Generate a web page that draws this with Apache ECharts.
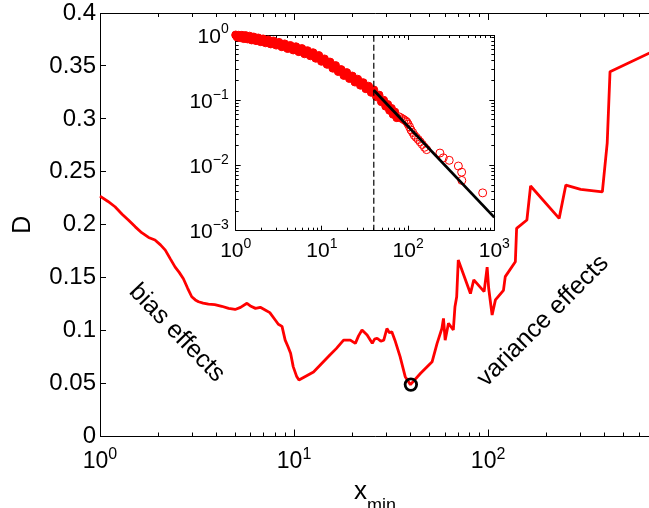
<!DOCTYPE html>
<html>
<head>
<meta charset="utf-8">
<script src="https://cdn.jsdelivr.net/npm/echarts@6/dist/echarts.min.js"></script>
<style>
  html, body { margin: 0; padding: 0; background: #fff; }
  #chart { width: 649px; height: 508px; }
</style>
</head>
<body>
<div id="chart"></div>
<script>
// main panel: KS distance D against x_min
const xminValues = [1.00, 1.10, 1.195, 1.30, 1.40, 1.52, 1.64, 1.78, 1.92, 2.05, 2.17, 2.30, 2.44, 2.56, 2.69, 2.83, 2.97, 3.10, 3.22, 3.40,
  3.62, 3.90, 4.24, 4.60, 4.97, 5.30, 5.72, 6.00, 6.33, 6.70, 7.10, 7.50, 8.00, 8.30, 8.67, 9.00, 9.30, 9.60, 9.90, 10.3,
  10.6, 10.75, 12.6, 15.3, 16.5, 18.0, 19.5, 20.7, 21.5, 22.4, 23.8, 25.3, 26.0, 26.8, 28.0, 29.0, 30.1, 31.0, 31.9, 33.1,
  35.2, 37.4, 39.8, 44.9, 51.5, 54.6, 57.8, 58.9, 60.1, 62.5, 66.2, 67.5, 68.9, 70.2, 81.1, 84.4, 95.4, 98.9, 100.7, 104.9,
  109.1, 120.0, 122.6, 138.2, 140.3, 158.5, 165.6, 232.4, 251.6, 300, 388, 411, 425, 683];
const dValues = [0.227, 0.222, 0.217, 0.210, 0.2045, 0.198, 0.1925, 0.188, 0.1856, 0.181, 0.176, 0.168, 0.160, 0.155, 0.149, 0.140, 0.132, 0.129, 0.1273, 0.126,
  0.125, 0.1245, 0.123, 0.121, 0.120, 0.122, 0.1258, 0.123, 0.121, 0.122, 0.1195, 0.117, 0.110, 0.106, 0.104, 0.091, 0.085, 0.0786, 0.066, 0.057,
  0.0534, 0.0518, 0.061, 0.077, 0.083, 0.091, 0.091, 0.088, 0.095, 0.1006, 0.0959, 0.088, 0.092, 0.0928, 0.090, 0.091, 0.102, 0.098, 0.099, 0.091,
  0.0754, 0.0565, 0.049, 0.0597, 0.0707, 0.088, 0.102, 0.1116, 0.091, 0.107, 0.1006, 0.1226, 0.132, 0.1667, 0.135, 0.148, 0.1368, 0.160, 0.140, 0.1148,
  0.129, 0.138, 0.151, 0.165, 0.1966, 0.2045, 0.2366, 0.206, 0.2375, 0.2335, 0.231, 0.277, 0.3446, 0.3625];
const bestX = [40];
const bestD = [0.049];

// inset: empirical CCDF (dense body + sparse tail), fitted power law, cut-off
const bodyX = [1.00, 1.04, 1.08, 1.13, 1.18, 1.24, 1.30, 1.37, 1.45, 1.53, 1.62, 1.72, 1.83, 1.95, 2.08, 2.22, 2.38, 2.55, 2.74, 2.95,
  3.18, 3.43, 3.70, 4.00, 4.30, 4.65, 5.00, 5.40, 5.85, 6.30, 6.80, 7.35, 7.90, 8.50, 9.20, 9.90, 10.7, 11.5, 12.4, 13.4,
  14.4, 15.5, 16.7, 18.0, 19.4, 20.9, 22.5, 24.2, 26.0, 28.0, 30.1, 32.4, 34.8, 37.4, 40.0, 43, 46, 49, 52, 55,
  58, 61, 64, 67, 70, 74];
const bodyY = [1.00, 0.93, 0.99, 0.91, 0.99, 0.88, 0.98, 0.87, 0.96, 0.84, 0.93, 0.82, 0.90, 0.79, 0.87, 0.76, 0.84, 0.73, 0.81, 0.70,
  0.77, 0.66, 0.73, 0.62, 0.69, 0.59, 0.66, 0.555, 0.62, 0.515, 0.575, 0.48, 0.535, 0.44, 0.485, 0.395, 0.43, 0.355, 0.385, 0.31,
  0.34, 0.275, 0.295, 0.24, 0.265, 0.215, 0.235, 0.19, 0.21, 0.17, 0.186, 0.15, 0.164, 0.132, 0.144, 0.113, 0.12, 0.095, 0.10, 0.081,
  0.086, 0.07, 0.075, 0.061, 0.066, 0.054];
const tailX = [78, 82, 86, 90, 94, 97, 100, 104, 108, 113, 118, 124, 131, 138, 146, 155, 164, 234, 256, 300, 383, 418, 420, 733];
const tailY = [0.056, 0.054, 0.052, 0.05, 0.048, 0.046, 0.043, 0.039, 0.035, 0.032, 0.029, 0.027, 0.025, 0.023, 0.021, 0.019, 0.0175,
  0.0155, 0.0131, 0.012, 0.0098, 0.0079, 0.0059, 0.0038];
const fitX = [40, 1000];
const fitY = [0.142, 0.0016];
const cutX = [40, 40];
const cutY = [0.001, 1];

// ticks
const mainXMajor = [1, 10, 100];
const mainXMinor = [2, 3, 4, 5, 6, 7, 8, 9, 20, 30, 40, 50, 60, 70, 80, 90, 200, 300, 400, 500, 600];
const mainYTicks = [0, 0.05, 0.1, 0.15, 0.2, 0.25, 0.3, 0.35, 0.4];
const insetXMajor = [1, 10, 100, 1000];
const insetXMinor = [2, 3, 4, 5, 6, 7, 8, 9, 20, 30, 40, 50, 60, 70, 80, 90, 200, 300, 400, 500, 600, 700, 800, 900];
const insetYMajor = [0.001, 0.01, 0.1, 1];
const insetYMinor = [0.002, 0.003, 0.004, 0.005, 0.006, 0.007, 0.008, 0.009, 0.02, 0.03, 0.04, 0.05, 0.06, 0.07, 0.08, 0.09,
  0.2, 0.3, 0.4, 0.5, 0.6, 0.7, 0.8, 0.9];

const FONT = "'Liberation Sans', Arial, Helvetica, sans-serif";
const INK = { stroke: '#000', lineWidth: 1, fill: null };

function zip(a, b) {
  return a.map((v, i) => [v, b[i]]);
}

function crisp(v) {
  return Math.round(v - 0.5) + 0.5;
}

function powLabel(v) {
  const e = Math.round(Math.log10(v));
  return '{b|10}{s|' + (e < 0 ? '\u2212' + (-e) : e) + '}';
}

// both tokens get the same box height, padding decides where the glyphs sit
function powRich(big, small, lift) {
  const h = big + lift;
  return {
    b: { fontSize: big, lineHeight: big, fontFamily: FONT, color: '#000', padding: [lift, 0, 0, 0] },
    s: { fontSize: small, lineHeight: small, fontFamily: FONT, color: '#000', padding: [0, 0, h - small, 0] }
  };
}

// axes only carry the labels; frame and ticks are drawn by custom series below
function labelAxis(type, grid, pos, min, max, label) {
  return {
    type: type, gridIndex: grid, position: pos, min: min, max: max,
    axisLine: { show: false, onZero: false },
    axisTick: { show: false },
    axisLabel: label || { show: false },
    splitLine: { show: false }
  };
}

// ticks along x, drawn inward from the bottom and the top edge of the grid
function xTicks(xi, yi, values, yRef, len) {
  return {
    type: 'custom', xAxisIndex: xi, yAxisIndex: yi, clip: false, silent: true, z: 2,
    data: values.map(v => [v, yRef]),
    renderItem: function (params, api) {
      const cs = params.coordSys;
      const px = crisp(api.coord([api.value(0), api.value(1)])[0]);
      const b = cs.y + cs.height, t = cs.y;
      return { type: 'group', children: [
        { type: 'line', shape: { x1: px, y1: b, x2: px, y2: b - len }, style: INK },
        { type: 'line', shape: { x1: px, y1: t, x2: px, y2: t + len }, style: INK }
      ] };
    }
  };
}

// ticks along y, drawn inward from the left (and optionally right) edge
function yTicks(xi, yi, values, xRef, len, right) {
  return {
    type: 'custom', xAxisIndex: xi, yAxisIndex: yi, clip: false, silent: true, z: 2,
    data: values.map(v => [xRef, v]),
    renderItem: function (params, api) {
      const cs = params.coordSys;
      const py = crisp(api.coord([api.value(0), api.value(1)])[1]);
      const l = cs.x, r = cs.x + cs.width;
      const kids = [{ type: 'line', shape: { x1: l, y1: py, x2: l + len, y2: py }, style: INK }];
      if (right) kids.push({ type: 'line', shape: { x1: r, y1: py, x2: r - len, y2: py }, style: INK });
      return { type: 'group', children: kids };
    }
  };
}

// box round the plotting area
function frame(xi, yi, xRef, yRef) {
  return {
    type: 'custom', xAxisIndex: xi, yAxisIndex: yi, clip: false, silent: true, z: 2,
    data: [[xRef, yRef]],
    renderItem: function (params) {
      const cs = params.coordSys;
      const x = crisp(cs.x), y = crisp(cs.y);
      return { type: 'rect', shape: { x: x, y: y, width: crisp(cs.x + cs.width) - x, height: crisp(cs.y + cs.height) - y }, style: INK };
    }
  };
}

const chart = echarts.init(document.getElementById('chart'), null, { renderer: 'canvas' });

const option = {
  animation: false,
  grid: [
    { left: 100, top: 13, width: 550, height: 423.5, outerBoundsMode: 'none' },
    { left: 235.7, top: 35, width: 258.6, height: 195.7, outerBoundsMode: 'none' }
  ],
  xAxis: [
    Object.assign(labelAxis('log', 0, 'bottom', 1, 683, {
      show: true, customValues: mainXMajor, margin: 12, formatter: powLabel, rich: powRich(23, 16, 4)
    }), {
      name: '{x|x}{s|min}', nameLocation: 'middle', nameGap: 40,
      nameTextStyle: {
        rich: {
          x: { fontSize: 26, lineHeight: 26, fontFamily: FONT, color: '#000', padding: [0, 0, 14, 0] },
          s: { fontSize: 18, lineHeight: 18, fontFamily: FONT, color: '#000', padding: [19, 0, 3, 0] }
        }
      }
    }),
    labelAxis('log', 1, 'bottom', 1, 1000, {
      show: true, customValues: insetXMajor, margin: 8, formatter: powLabel, rich: powRich(21, 14, 4)
    })
  ],
  yAxis: [
    Object.assign(labelAxis('value', 0, 'left', 0, 0.4, {
      show: true, margin: 4, fontSize: 24, fontFamily: FONT, color: '#000'
    }), {
      interval: 0.05,
      name: 'D', nameLocation: 'middle', nameGap: 64, nameRotate: 90,
      nameTextStyle: { fontSize: 25, fontFamily: FONT, color: '#000' }
    }),
    labelAxis('log', 1, 'left', 0.001, 1, {
      show: true, customValues: insetYMajor, margin: 7, formatter: powLabel, rich: powRich(21, 14, 4)
    })
  ],
  series: [
    frame(0, 0, 1, 0),
    xTicks(0, 0, mainXMajor, 0, 7),
    xTicks(0, 0, mainXMinor, 0, 4),
    yTicks(0, 0, mainYTicks, 1, 6, false),
    frame(1, 1, 1, 0.001),
    xTicks(1, 1, insetXMajor, 0.001, 5),
    xTicks(1, 1, insetXMinor, 0.001, 3),
    yTicks(1, 1, insetYMajor, 1, 5, true),
    yTicks(1, 1, insetYMinor, 1, 3, true),
    {
      type: 'line', xAxisIndex: 0, yAxisIndex: 0, data: zip(xminValues, dValues),
      symbol: 'none', lineStyle: { color: '#ff0000', width: 2.8 }, z: 3
    },
    {
      type: 'scatter', xAxisIndex: 0, yAxisIndex: 0, data: zip(bestX, bestD),
      symbol: 'circle', symbolSize: 11.5,
      itemStyle: { color: 'rgba(255,255,255,0)', borderColor: '#000', borderWidth: 2.8, opacity: 1 }, z: 4
    },
    {
      type: 'scatter', xAxisIndex: 1, yAxisIndex: 1, data: zip(bodyX, bodyY),
      symbol: 'circle', symbolSize: 8,
      itemStyle: { color: '#ff0000', borderColor: '#ff0000', borderWidth: 1, opacity: 1 }, z: 3
    },
    {
      type: 'scatter', xAxisIndex: 1, yAxisIndex: 1, data: zip(tailX, tailY),
      symbol: 'circle', symbolSize: 8,
      itemStyle: { color: 'rgba(255,255,255,0)', borderColor: '#ff0000', borderWidth: 1, opacity: 1 }, z: 3
    },
    {
      type: 'line', xAxisIndex: 1, yAxisIndex: 1, data: zip(cutX, cutY),
      symbol: 'none', lineStyle: { color: '#000', width: 1.2, type: [6, 3] }, z: 4
    },
    {
      type: 'line', xAxisIndex: 1, yAxisIndex: 1, data: zip(fitX, fitY),
      symbol: 'none', lineStyle: { color: '#000', width: 2.8 }, z: 5
    }
  ],
  graphic: [
    {
      type: 'text', x: 177, y: 333, rotation: -46 * Math.PI / 180,
      style: { text: 'bias effects', fontSize: 25, fontFamily: FONT, fill: '#000', align: 'center', verticalAlign: 'middle' }
    },
    {
      type: 'text', x: 543, y: 321, rotation: 45 * Math.PI / 180,
      style: { text: 'variance effects', fontSize: 25, fontFamily: FONT, fill: '#000', align: 'center', verticalAlign: 'middle' }
    }
  ]
};

chart.setOption(option);
</script>
</body>
</html>
